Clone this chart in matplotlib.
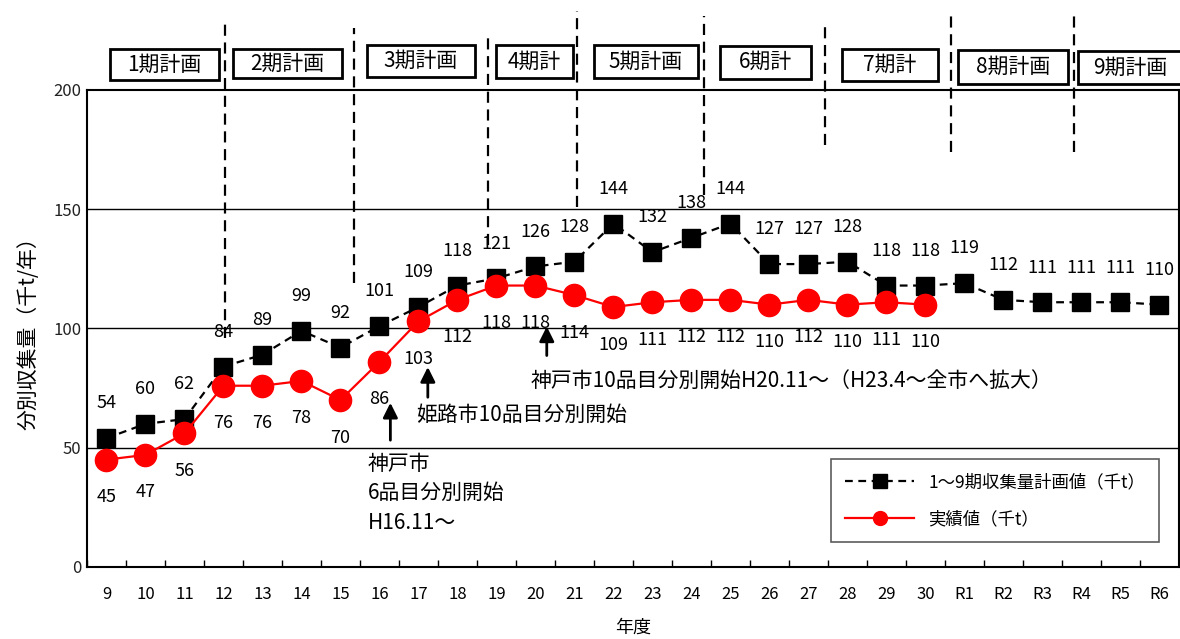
import numpy as np
import matplotlib.pyplot as plt
from matplotlib.patches import Rectangle

plt.rcParams['font.family'] = ['Noto Sans CJK JP', 'DejaVu Sans']

#%% データ
years = ['9', '10', '11', '12', '13', '14', '15', '16', '17', '18', '19', '20', '21',
         '22', '23', '24', '25', '26', '27', '28', '29', '30',
         'R1', 'R2', 'R3', 'R4', 'R5', 'R6']
plan = [54, 60, 62, 84, 89, 99, 92, 101, 109, 118, 121, 126, 128, 144, 132, 138, 144,
        127, 127, 128, 118, 118, 119, 112, 111, 111, 111, 110]
actual = [45, 47, 56, 76, 76, 78, 70, 86, 103, 112, 118, 118, 114, 109, 111, 112, 112,
          110, 112, 110, 111, 110]

periods = ['1期計画', '2期計画', '3期計画', '4期計', '5期計画', '6期計', '7期計', '8期計画', '9期計画']

#%% 位置（画像から読んだ目安）
# 期の区切り線 x位置, 上端, 下端
sep_x = [3.05, 6.35, 9.78, 12.06, 15.33, 18.43, 21.65, 24.8]
sep_top = [230, 226, 222, 233, 231, 228, 231, 232]
sep_bot = [96, 119, 135, 151, 156, 177, 174, 174]
# 期計画の枠 (左, 右, 上, 下)
box_l = [0.08, 3.25, 6.68, 9.98, 12.49, 15.72, 18.86, 21.83, 24.92]
box_r = [2.89, 6.04, 9.44, 11.95, 15.18, 18.07, 21.32, 24.65, 27.6]
box_t = [217.2, 217.2, 218.9, 218.9, 218.9, 218.5, 217.2, 216.8, 216.4]
box_b = [204.2, 205.0, 205.5, 205.1, 205.1, 204.7, 203.8, 202.5, 202.5]

fig = plt.figure(figsize=(11.8, 6.39), dpi=100)
ax = fig.add_axes([0.0737, 0.1127, 0.9254, 0.7465])

x = np.arange(len(years))
xa = np.arange(len(actual))

ax.plot(x, plan, color='black', ls=(0, (3.5, 2.5)), lw=1.6, marker='s', ms=13,
        mfc='black', mec='black', label='1～9期収集量計画値（千t）', zorder=4)
ax.plot(xa, actual, color='#ff0000', lw=1.6, marker='o', ms=16,
        mfc='#ff0000', mec='#ff0000', label='実績値（千t）', zorder=5)

for i, v in enumerate(plan):
    ax.annotate(str(v), (i, v), xytext=(0, 25), textcoords='offset points',
                ha='center', va='center', fontsize=13, zorder=6)
for i, v in enumerate(actual):
    ax.annotate(str(v), (i, v), xytext=(0, -27), textcoords='offset points',
                ha='center', va='center', fontsize=13, zorder=6)

ax.set_xlim(-0.5, len(years) - 0.5)
ax.set_ylim(0, 200)
ax.set_yticks([0, 50, 100, 150, 200])
ax.set_xticks(x)
ax.set_xticklabels(years, fontsize=12)
ax.set_xticks(np.arange(-0.5, len(years)), minor=True)
ax.tick_params(axis='x', which='major', length=0, pad=14)
ax.tick_params(axis='x', which='minor', direction='in', length=5, width=1)
ax.tick_params(axis='y', length=0, pad=4, labelsize=12)
for lab in ax.get_yticklabels():
    lab.set_color('#222222')

for yv in [50, 100, 150]:
    ax.axhline(yv, color='black', lw=1, zorder=1)
for s in ax.spines.values():
    s.set_linewidth(1.5)

ax.set_xlabel('年度', fontsize=13, labelpad=11)
ax.set_ylabel('分別収集量（千t/年）', fontsize=15, labelpad=10)

# 期の区切り
for sx, st, sb in zip(sep_x, sep_top, sep_bot):
    ax.plot([sx, sx], [sb, st], color='black', ls=(0, (5, 3)), lw=1.6,
            clip_on=False, zorder=3)

for name, l, r, t, b in zip(periods, box_l, box_r, box_t, box_b):
    ax.add_patch(Rectangle((l, b), r - l, t - b, fill=True, fc='white', ec='black',
                           lw=2, clip_on=False, zorder=7))
    ax.text((l + r) / 2, (t + b) / 2, name, ha='center', va='center', fontsize=15,
            clip_on=False, zorder=8)

# 注記
arw = dict(arrowstyle='-|>', color='black', lw=2, mutation_scale=22)
ax.annotate('', xy=(7.28, 70), xytext=(7.28, 52), arrowprops=arw, zorder=6)
ax.annotate('', xy=(8.24, 85), xytext=(8.24, 70), arrowprops=arw, zorder=6)
ax.annotate('', xy=(11.29, 102), xytext=(11.29, 87.5), arrowprops=arw, zorder=6)

ax.text(6.7, 48, '神戸市\n6品目分別開始\nH16.11～', ha='left', va='top', fontsize=15,
        linespacing=1.45, zorder=6)
ax.text(7.93, 63.7, '姫路市10品目分別開始', ha='left', va='center', fontsize=15, zorder=6)
ax.text(10.88, 78, '神戸市10品目分別開始H20.11～（H23.4～全市へ拡大）', ha='left',
        va='center', fontsize=15, zorder=6)

leg = ax.legend(loc='lower right', bbox_to_anchor=(0.9817, 0.0524), fontsize=12.5,
                frameon=True, fancybox=False, handlelength=4, labelspacing=1.1,
                borderpad=0.8, borderaxespad=0)
leg.get_frame().set_edgecolor('#333333')
leg.get_frame().set_linewidth(1.2)
for h in leg.legend_handles:
    h.set_markersize(10)

fig.savefig('out.png', dpi=100)
